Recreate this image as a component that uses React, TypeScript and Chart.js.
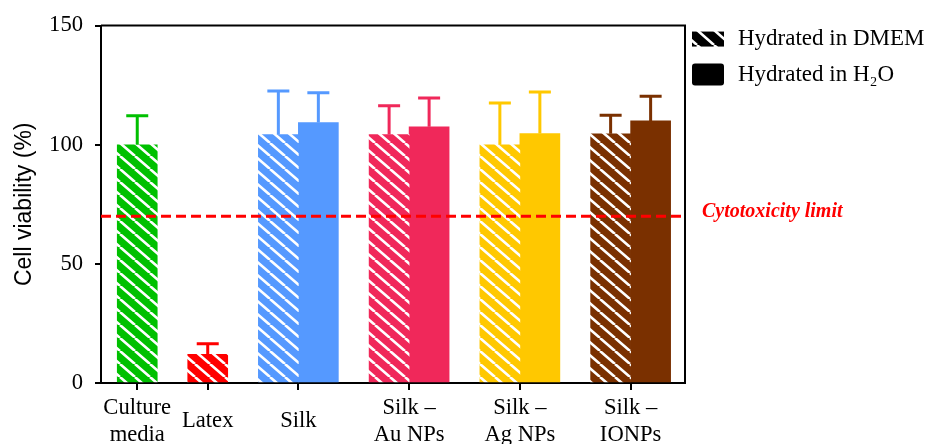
import React, { useEffect, useRef } from 'react';
import { Chart, registerables } from 'chart.js';

Chart.register(...registerables);

// ---- data ----
const CATEGORIES: (string | string[])[] = [
  ['Culture', 'media'],
  'Latex',
  'Silk',
  ['Silk –', 'Au NPs'],
  ['Silk –', 'Ag NPs'],
  ['Silk –', 'IONPs'],
];
const COLORS = ['#00c000', '#ff0000', '#5599ff', '#f0285a', '#ffc800', '#7a3000'];
const DMEM_VALUES: (number | null)[] = [100, 12, 104.3, 104.3, 100, 104.6];
const DMEM_SD: (number | null)[] = [12.2, 4.5, 18.2, 12, 17.5, 7.8];
const H2O_VALUES: (number | null)[] = [null, null, 109.3, 107.5, 104.7, 110];
const H2O_SD: (number | null)[] = [null, null, 12.5, 12.1, 17.4, 10.3];
const Y_TICKS = [0, 50, 100, 150];
const CYTOTOXICITY_LIMIT = 70;
const LEGEND_LABELS = ['Hydrated in DMEM', 'Hydrated in H₂O'];

// ---- layout (x units) ----
const BAR_UNITS = 4;
const GAP_UNITS = 3;
const EDGE_LEFT = 1.6;
const EDGE_RIGHT = 1.4;

const CENTERS: number[] = [];
let cursor = EDGE_LEFT;
CATEGORIES.forEach((_, i) => {
  const n = H2O_VALUES[i] == null ? 1 : 2;
  const w = n * BAR_UNITS;
  CENTERS.push(cursor + w / 2);
  cursor += w + GAP_UNITS;
});
const X_MAX = cursor - GAP_UNITS + EDGE_RIGHT;

const SERIF = "'Liberation Serif', 'Times New Roman', serif";
const SANS = "'Liberation Sans', Arial, sans-serif";

function stripePattern(color: string, w = 15, h = 13, lw = 2.6): CanvasPattern | string {
  const c = document.createElement('canvas');
  c.width = w;
  c.height = h;
  const g = c.getContext('2d');
  if (!g) return color;
  g.fillStyle = color;
  g.fillRect(0, 0, w, h);
  g.strokeStyle = '#ffffff';
  g.lineWidth = lw;
  g.beginPath();
  for (const x0 of [-w, 0, w]) {
    g.moveTo(x0, 0);
    g.lineTo(x0 + w, h);
  }
  g.stroke();
  const p = g.createPattern(c, 'repeat');
  return p || color;
}

const errorBarPlugin = {
  id: 'errorBars',
  afterDatasetsDraw(chart: any) {
    const ctx = chart.ctx;
    const yScale = chart.scales.y;
    const sds = [DMEM_SD, H2O_SD];
    const vals = [DMEM_VALUES, H2O_VALUES];
    chart.data.datasets.forEach((_: any, di: number) => {
      const meta = chart.getDatasetMeta(di);
      meta.data.forEach((el: any, i: number) => {
        const v = vals[di][i];
        const sd = sds[di][i];
        if (v == null || sd == null) return;
        const yTop = yScale.getPixelForValue(v + sd);
        const yBar = yScale.getPixelForValue(v);
        ctx.save();
        ctx.strokeStyle = COLORS[i];
        ctx.lineWidth = 3;
        ctx.beginPath();
        ctx.moveTo(el.x, yBar);
        ctx.lineTo(el.x, yTop);
        ctx.moveTo(el.x - 11, yTop);
        ctx.lineTo(el.x + 11, yTop);
        ctx.stroke();
        ctx.restore();
      });
    });
  },
};

const limitPlugin = {
  id: 'limitLine',
  afterDatasetsDraw(chart: any) {
    const { ctx, chartArea } = chart;
    const y = chart.scales.y.getPixelForValue(CYTOTOXICITY_LIMIT);
    ctx.save();
    ctx.strokeStyle = '#ff0000';
    ctx.lineWidth = 3;
    ctx.setLineDash([10, 5]);
    ctx.beginPath();
    ctx.moveTo(chartArea.left, y);
    ctx.lineTo(chartArea.right, y);
    ctx.stroke();
    ctx.setLineDash([]);
    ctx.fillStyle = '#ff0000';
    ctx.font = `italic bold 20px ${SERIF}`;
    ctx.textAlign = 'left';
    ctx.textBaseline = 'middle';
    ctx.fillText('Cytotoxicity limit', chartArea.right + 17, y - 4);
    ctx.restore();
  },
};

const framePlugin = {
  id: 'frame',
  afterDraw(chart: any) {
    const { ctx, chartArea } = chart;
    ctx.save();
    ctx.strokeStyle = '#000';
    ctx.lineWidth = 2;
    ctx.beginPath();
    ctx.moveTo(chartArea.left, chartArea.top);
    ctx.lineTo(chartArea.right, chartArea.top);
    ctx.lineTo(chartArea.right, chartArea.bottom);
    ctx.stroke();
    ctx.restore();
  },
};

const legendPlugin = {
  id: 'customLegend',
  afterDraw(chart: any) {
    const { ctx, chartArea } = chart;
    const x = chartArea.right + 7;
    const y1 = chartArea.top + 13;
    const y2 = chartArea.top + 49;
    ctx.save();
    ctx.fillStyle = stripePattern('#000000', 17, 15, 2.6);
    ctx.fillRect(x, y1 - 7, 32, 15);
    ctx.fillStyle = '#000000';
    ctx.beginPath();
    (ctx as any).roundRect ? (ctx as any).roundRect(x, y2 - 11, 32, 22, 3) : ctx.rect(x, y2 - 11, 32, 22);
    ctx.fill();
    ctx.fillStyle = '#000000';
    ctx.font = `23px ${SERIF}`;
    ctx.textAlign = 'left';
    ctx.textBaseline = 'middle';
    const labels = chart.data.datasets.map((d: any) => d.label);
    ctx.fillText(labels[0], x + 46, y1);
    ctx.fillText(labels[1], x + 46, y2);
    ctx.restore();
  },
};

export default function App() {
  const ref = useRef<HTMLCanvasElement | null>(null);
  useEffect(() => {
    if (!ref.current) return;
    Chart.defaults.font.family = SERIF;
    const chart = new Chart(ref.current, {
      type: 'bar',
      data: {
        datasets: [
          {
            label: LEGEND_LABELS[0],
            data: CENTERS.map((x, i) => ({ x, y: DMEM_VALUES[i] })) as any,
            backgroundColor: COLORS.map((c) => stripePattern(c)) as any,
            borderWidth: 0,
          },
          {
            label: LEGEND_LABELS[1],
            data: CENTERS.map((x, i) => ({ x, y: H2O_VALUES[i] })) as any,
            backgroundColor: COLORS,
            borderWidth: 0,
          },
        ],
      },
      options: {
        animation: false,
        responsive: false,
        maintainAspectRatio: false,
        devicePixelRatio: 1,
        layout: { padding: { left: 0, top: 23, right: 240, bottom: 0 } },
        datasets: { bar: { barThickness: 40, skipNull: true, grouped: true } as any },
        plugins: { legend: { display: false }, tooltip: { enabled: false } },
        scales: {
          x: {
            type: 'linear',
            min: 0,
            max: X_MAX,
            offset: false,
            afterBuildTicks: (ax: any) => {
              ax.ticks = CENTERS.map((v) => ({ value: v }));
            },
            afterFit: (ax: any) => {
              ax.height = 61;
            },
            ticks: {
              autoSkip: false,
              maxRotation: 0,
              crossAlign: 'center',
              padding: 18,
              color: '#000',
              font: { family: SERIF, size: 22.6 },
              callback: (_v: any, i: number) => CATEGORIES[i] as any,
            },
            grid: { offset: false, drawOnChartArea: false, drawTicks: true, tickLength: 7, color: '#000', lineWidth: 2 },
            border: { display: true, color: '#000', width: 2 },
          },
          y: {
            min: 0,
            max: 150,
            afterBuildTicks: (ax: any) => {
              ax.ticks = Y_TICKS.map((v) => ({ value: v }));
            },
            afterFit: (ax: any) => {
              ax.width = 101;
            },
            ticks: {
              padding: 12,
              color: '#000',
              font: { family: SERIF, size: 22.6 },
            },
            grid: { drawOnChartArea: false, drawTicks: true, tickLength: 6, color: '#000', lineWidth: 2 },
            border: { display: true, color: '#000', width: 2 },
            title: {
              display: true,
              text: 'Cell viability (%)',
              color: '#000',
              font: { family: SANS, size: 23 },
              padding: { top: 11, bottom: 0 },
            },
          },
        },
      },
      plugins: [errorBarPlugin, limitPlugin, framePlugin, legendPlugin],
    });
    return () => chart.destroy();
  }, []);
  return (
    <div style={{ position: 'absolute', left: 0, top: 0, width: 925, height: 444 }}>
      <canvas ref={ref} width={925} height={444} style={{ display: 'block' }} />
    </div>
  );
}
